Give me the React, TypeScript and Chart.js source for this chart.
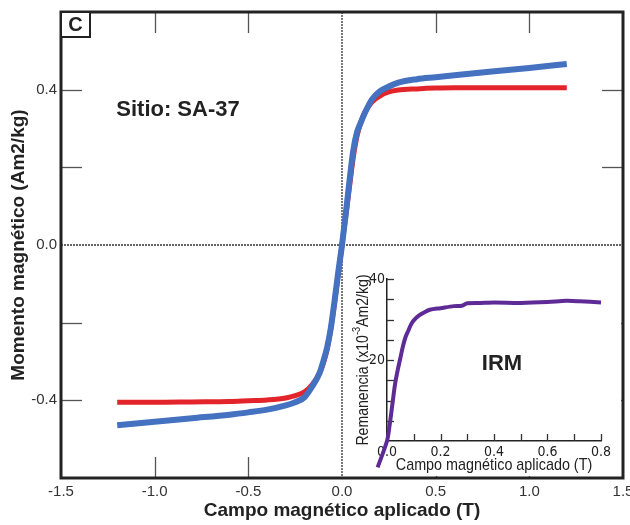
import React, { useEffect, useRef } from "react";
import { Chart, registerables } from "chart.js";

Chart.register(...registerables);

// ---- Hysteresis data (applied field in T, moment in Am2/kg) ----
const fieldT = [
  -1.2, -1.0, -0.8, -0.6, -0.5, -0.4, -0.3, -0.25, -0.2, -0.16, -0.12, -0.1, -0.08, -0.06, -0.04, -0.02,
  0, 0.02, 0.04, 0.06, 0.08, 0.1, 0.12, 0.16, 0.2, 0.25, 0.3, 0.4, 0.5, 0.6, 0.8, 1.0, 1.2,
];
// corrected (red)
const momentCorrected = [
  -0.405, -0.405, -0.404, -0.403, -0.401, -0.399, -0.394, -0.388, -0.378, -0.36, -0.33, -0.305, -0.27, -0.215, -0.15, -0.075,
  0, 0.075, 0.15, 0.225, 0.28, 0.315, 0.34, 0.368, 0.383, 0.394, 0.399, 0.402, 0.404, 0.405, 0.405, 0.405, 0.405,
];
// raw (blue)
const momentRaw = [
  -0.464, -0.455, -0.446, -0.437, -0.431, -0.424, -0.413, -0.405, -0.392, -0.365, -0.33, -0.3, -0.265, -0.215, -0.145, -0.07,
  0, 0.08, 0.165, 0.243, 0.29, 0.315, 0.338, 0.375, 0.395, 0.408, 0.418, 0.427, 0.432, 0.437, 0.447, 0.456, 0.466,
];

// ---- IRM inset data ----
const irmField = [
  -0.035, 0, 0.01, 0.02, 0.03, 0.04, 0.05, 0.06, 0.07, 0.08, 0.09, 0.1, 0.12, 0.14, 0.16, 0.2, 0.25, 0.28, 0.3, 0.35,
  0.4, 0.5, 0.6, 0.67, 0.72, 0.8,
];
const irmRemanence = [
  -6.5, 0, 4, 9, 14, 17.5, 20.5, 23.5, 25.8, 27.3, 28.8, 29.8, 31.0, 31.8, 32.4, 32.8, 33.3, 33.4, 34.0, 34.1,
  34.2, 34.1, 34.3, 34.6, 34.5, 34.2,
];

// ---- Tick labels ----
const mainYLabelled = [0.4, 0.0, -0.4];
const insetXLabelled = [0, 0.2, 0.4, 0.6, 0.8];
const insetYLabelled = [20, 40];

const FONT = "'Liberation Sans', Arial, sans-serif";
const NARROW = "'DejaVu Sans Condensed', 'Liberation Sans Narrow', sans-serif";

const near = (list: number[], v: number) => list.some((l) => Math.abs(l - v) < 1e-6);

const mainDecor = {
  id: "mainDecor",
  beforeDatasetsDraw(chart: any) {
    const { ctx, chartArea, scales } = chart;
    const { left, right, top, bottom } = chartArea;
    const x = scales.x;
    const y = scales.y;
    const line = (a: number, b: number, c: number, d: number) => {
      ctx.beginPath();
      ctx.moveTo(a, b);
      ctx.lineTo(c, d);
      ctx.stroke();
    };
    ctx.save();
    ctx.strokeStyle = "#333";
    ctx.lineWidth = 1.3;
    ctx.setLineDash([2, 1]);
    const x0 = x.getPixelForValue(0);
    const y0 = y.getPixelForValue(0);
    line(x0, top, x0, bottom);
    line(left, y0, right, y0);
    ctx.setLineDash([]);
    ctx.strokeStyle = "#555";
    ctx.lineWidth = 1.3;
    const L = 21;
    x.ticks
      .map((t: any) => t.value)
      .filter((v: number) => v > x.min && v < x.max && Math.abs(v) > 1e-9)
      .forEach((v: number) => {
        const px = Math.round(x.getPixelForValue(v)) + 0.5;
        line(px, top, px, top + L);
        line(px, bottom, px, bottom - L);
      });
    y.ticks
      .map((t: any) => t.value)
      .filter((v: number) => v > y.min && v < y.max && Math.abs(v) > 1e-9)
      .forEach((v: number) => {
        const py = Math.round(y.getPixelForValue(v)) + 0.5;
        line(left, py, left + L, py);
        line(right, py, right - L, py);
      });
    ctx.restore();
  },
  afterDraw(chart: any) {
    const { ctx, chartArea, scales } = chart;
    const { left, right, top, bottom } = chartArea;
    ctx.save();
    ctx.strokeStyle = "#222";
    ctx.lineWidth = 3;
    ctx.strokeRect(left, top, right - left, bottom - top);
    ctx.lineWidth = 2;
    ctx.fillStyle = "#fff";
    ctx.fillRect(left, top, 29, 25);
    ctx.strokeRect(left, top, 29, 25);
    ctx.fillStyle = "#222";
    ctx.font = `bold 20px ${FONT}`;
    ctx.textAlign = "center";
    ctx.textBaseline = "middle";
    ctx.fillText("C", left + 14.5, top + 13);
    ctx.font = `bold 22px ${FONT}`;
    ctx.textAlign = "left";
    ctx.fillText("Sitio: SA-37", scales.x.getPixelForValue(-1.205), scales.y.getPixelForValue(0.348));
    ctx.restore();
  },
};

const insetDecor = {
  id: "insetDecor",
  beforeDraw(chart: any) {
    const { ctx, width, height } = chart;
    ctx.save();
    ctx.fillStyle = "#fff";
    ctx.fillRect(0, 0, width, height);
    ctx.restore();
  },
  beforeDatasetsDraw(chart: any) {
    const { ctx, chartArea, scales } = chart;
    const { left, bottom } = chartArea;
    const x = scales.x;
    const y = scales.y;
    ctx.save();
    ctx.strokeStyle = "#333";
    ctx.lineWidth = 1.3;
    const L = 7;
    x.ticks
      .map((t: any) => t.value)
      .filter((v: number) => v > x.min + 1e-9)
      .forEach((v: number) => {
        const px = Math.round(x.getPixelForValue(v)) + 0.5;
        ctx.beginPath();
        ctx.moveTo(px, bottom);
        ctx.lineTo(px, bottom - L);
        ctx.stroke();
      });
    y.ticks
      .map((t: any) => t.value)
      .filter((v: number) => v > y.min + 1e-9)
      .forEach((v: number) => {
        const py = Math.round(y.getPixelForValue(v)) + 0.5;
        ctx.beginPath();
        ctx.moveTo(left, py);
        ctx.lineTo(left + L, py);
        ctx.stroke();
      });
    ctx.fillStyle = "#222";
    ctx.font = `bold 22px ${FONT}`;
    ctx.textAlign = "center";
    ctx.textBaseline = "middle";
    ctx.fillText("IRM", x.getPixelForValue(0.43), y.getPixelForValue(19));
    ctx.restore();
  },
  afterDraw(chart: any) {
    const { ctx, chartArea } = chart;
    const { left, right, top, bottom } = chartArea;
    const SX = 0.83;
    ctx.save();
    ctx.fillStyle = "#222";
    ctx.textBaseline = "middle";
    // x-axis title (condensed)
    ctx.font = `17px ${FONT}`;
    ctx.textAlign = "center";
    ctx.save();
    ctx.translate((left + right) / 2, bottom + 24);
    ctx.scale(SX + 0.015, 1);
    ctx.fillText("Campo magnético aplicado (T)", 0, 0);
    ctx.restore();
    // y-axis title (condensed, rotated, with superscript)
    const p1 = "Remanencia (x10";
    const sup = "-3";
    const p2 = "Am2/kg)";
    ctx.font = `17px ${FONT}`;
    const w1 = ctx.measureText(p1).width;
    const w3 = ctx.measureText(p2).width;
    ctx.font = `11px ${FONT}`;
    const w2 = ctx.measureText(sup).width;
    const total = w1 + w2 + w3;
    ctx.save();
    ctx.translate(left - 24, (top + bottom) / 2);
    ctx.rotate(-Math.PI / 2);
    ctx.scale(SX, 1);
    ctx.textAlign = "left";
    let cx = -total / 2;
    ctx.font = `17px ${FONT}`;
    ctx.fillText(p1, cx, 0);
    cx += w1;
    ctx.font = `11px ${FONT}`;
    ctx.fillText(sup, cx, -6);
    cx += w2;
    ctx.font = `17px ${FONT}`;
    ctx.fillText(p2, cx, 0);
    ctx.restore();
    ctx.restore();
  },
};

export default function App() {
  const mainRef = useRef<HTMLCanvasElement>(null);
  const insetRef = useRef<HTMLCanvasElement>(null);

  useEffect(() => {
    const main = new Chart(mainRef.current as HTMLCanvasElement, {
      type: "line",
      data: {
        datasets: [
          {
            label: "Raw",
            data: fieldT.map((h, i) => ({ x: h, y: momentRaw[i] })),
            borderColor: "#4471c0",
            borderWidth: 6,
            pointRadius: 0,
            cubicInterpolationMode: "monotone",
            fill: false,
          },
          {
            label: "Corrected",
            data: fieldT.map((h, i) => ({ x: h, y: momentCorrected[i] })),
            borderColor: "#e4242b",
            borderWidth: 5,
            pointRadius: 0,
            cubicInterpolationMode: "monotone",
            fill: false,
          },
        ],
      },
      options: {
        animation: false,
        responsive: false,
        maintainAspectRatio: false,
        devicePixelRatio: 1,
        layout: { padding: { left: 0, top: 12, right: 7, bottom: 0 } },
        plugins: { legend: { display: false }, tooltip: { enabled: false } },
        scales: {
          x: {
            type: "linear",
            min: -1.5,
            max: 1.5,
            grid: { display: false, drawTicks: false },
            border: { display: false },
            ticks: {
              stepSize: 0.5,
              autoSkip: false,
              maxRotation: 0,
              padding: 5,
              color: "#333",
              font: { family: FONT, size: 15 },
              callback: (v: any) => Number(v).toFixed(1),
            },
            title: {
              display: true,
              text: "Campo magnético aplicado (T)",
              color: "#222",
              font: { family: FONT, size: 19, weight: "bold" },
              padding: { top: 0, bottom: 3 },
            },
            afterFit: (s: any) => {
              s.height = 47;
              s.paddingLeft = 0;
              s.paddingRight = 0;
            },
          },
          y: {
            type: "linear",
            min: -0.6,
            max: 0.6,
            grid: { display: false, drawTicks: false },
            border: { display: false },
            ticks: {
              stepSize: 0.2,
              autoSkip: false,
              padding: 4,
              color: "#333",
              font: { family: FONT, size: 15 },
              callback: (v: any) => (near(mainYLabelled, Number(v)) ? Number(v).toFixed(1) : ""),
            },
            title: {
              display: true,
              text: "Momento magnético (Am2/kg)",
              color: "#222",
              font: { family: FONT, size: 19, weight: "bold" },
              padding: { top: 7, bottom: 0 },
            },
            afterFit: (s: any) => {
              s.width = 61;
              s.paddingTop = 0;
              s.paddingBottom = 0;
            },
          },
        },
      } as any,
      plugins: [mainDecor],
    });

    const inset = new Chart(insetRef.current as HTMLCanvasElement, {
      type: "line",
      data: {
        datasets: [
          {
            label: "IRM",
            data: irmField.map((h, i) => ({ x: h, y: irmRemanence[i] })),
            borderColor: "#5e2a96",
            borderWidth: 4,
            pointRadius: 0,
            tension: 0.3,
            clip: false as any,
            fill: false,
          },
        ],
      },
      options: {
        animation: false,
        responsive: false,
        maintainAspectRatio: false,
        devicePixelRatio: 1,
        layout: { padding: { left: 0, top: 21, right: 20, bottom: 0 } },
        plugins: { legend: { display: false }, tooltip: { enabled: false } },
        scales: {
          x: {
            type: "linear",
            min: 0,
            max: 0.8,
            grid: { display: false, drawTicks: false },
            border: { display: true, color: "#222", width: 1.5 },
            ticks: {
              stepSize: 0.1,
              autoSkip: false,
              maxRotation: 0,
              padding: 3,
              color: "#222",
              font: { family: NARROW, size: 14 },
              callback: (v: any) => (near(insetXLabelled, Number(v)) ? Number(v).toFixed(1) : ""),
            },
            title: { display: false },
            afterFit: (s: any) => {
              s.height = 35;
              s.paddingLeft = 0;
              s.paddingRight = 0;
            },
          },
          y: {
            type: "linear",
            min: 0,
            max: 40,
            grid: { display: false, drawTicks: false },
            border: { display: true, color: "#222", width: 1.5 },
            ticks: {
              stepSize: 5,
              autoSkip: false,
              padding: 2,
              color: "#222",
              font: { family: NARROW, size: 14 },
              callback: (v: any) => (near(insetYLabelled, Number(v)) ? String(v) : ""),
            },
            title: { display: false },
            afterFit: (s: any) => {
              s.width = 37;
              s.paddingTop = 0;
              s.paddingBottom = 0;
            },
          },
        },
      } as any,
      plugins: [insetDecor],
    });

    return () => {
      main.destroy();
      inset.destroy();
    };
  }, []);

  return (
    <div style={{ position: "absolute", left: 0, top: 0, width: 630, height: 525, background: "#fff" }}>
      <canvas
        ref={mainRef}
        width={630}
        height={525}
        style={{ position: "absolute", left: 0, top: 0, width: 630, height: 525 }}
      />
      <canvas
        ref={insetRef}
        width={271}
        height={218}
        style={{ position: "absolute", left: 350, top: 258, width: 271, height: 218 }}
      />
    </div>
  );
}
